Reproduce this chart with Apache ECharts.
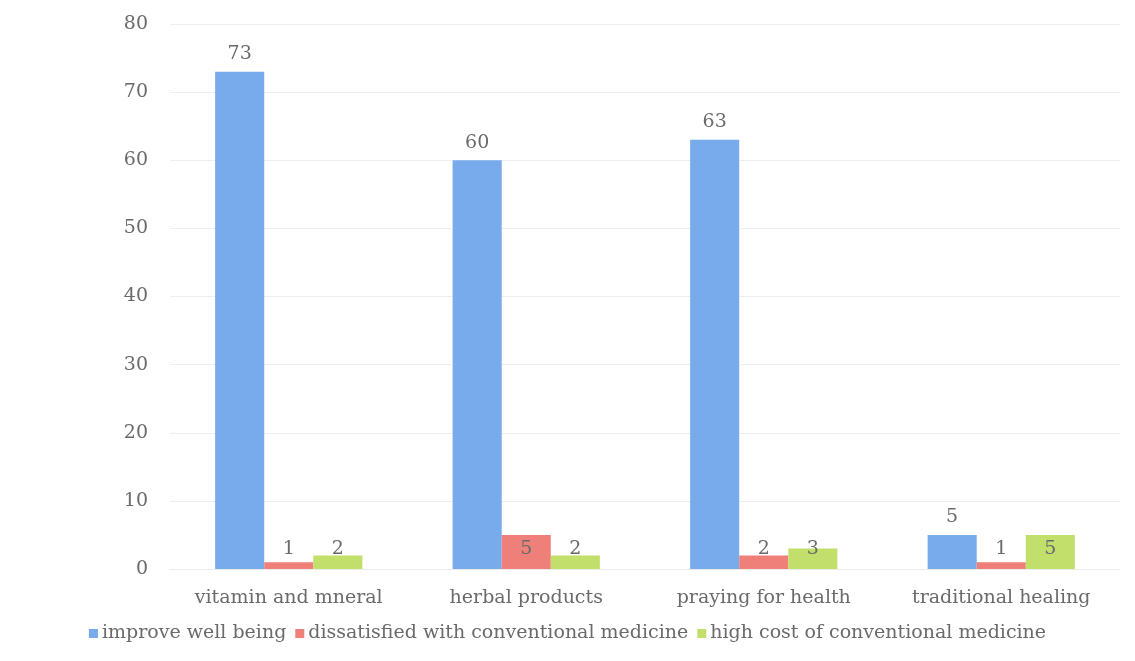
<!DOCTYPE html>
<html>
<head>
    <meta charset="utf-8">
    <script src="https://cdn.jsdelivr.net/npm/echarts@6/dist/echarts.min.js"></script>
    <style>
        html, body { margin: 0; padding: 0; background: #fff; }
        #dom { width: 1135px; height: 661px; }
    </style>
</head>
<body>
<div id="dom"></div>
<script type="text/javascript">
    var categories = ['vitamin and mneral', 'herbal products', 'praying for health', 'traditional healing'];
    var improveWellBeing = [73, 60, 63, 5];
    var dissatisfied = [1, 5, 2, 1];
    var highCost = [2, 2, 3, 5];
    var yTicks = [0, 10, 20, 30, 40, 50, 60, 70, 80];

    var font = '"DejaVu Serif", "Liberation Serif", serif';
    var textColor = '#6a6a6a';

    var myChart = echarts.init(document.getElementById('dom'));

    // small bars: labels sit near the base like in the original (excel-ish)
    function barSeries(name, data, color, smallLabels) {
        return {
            name: name,
            type: 'bar',
            data: data,
            barGap: '0%',
            barCategoryGap: '38%',
            itemStyle: { color: color },
            label: {
                show: true,
                position: smallLabels ? 'insideBottom' : 'top',
                distance: smallLabels ? 10 : 8,
                color: textColor,
                fontFamily: font,
                fontSize: 19
            }
        };
    }

    var option = {
        animation: false,
        backgroundColor: '#fff',
        grid: { left: 170, right: 15, top: 24, bottom: 92 },
        legend: {
            bottom: 13,
            left: 'center',
            itemWidth: 9,
            itemHeight: 9,
            itemGap: 9,
            icon: 'rect',
            textStyle: { color: textColor, fontFamily: font, fontSize: 19, padding: [0, 0, 0, -1] },
            data: ['improve well being', 'dissatisfied with conventional medicine', 'high cost of conventional medicine']
        },
        xAxis: {
            type: 'category',
            data: categories,
            axisLine: { lineStyle: { color: '#ececec' } },
            axisTick: { show: false },
            axisLabel: { interval: 0, color: textColor, fontFamily: font, fontSize: 19, margin: 20 }
        },
        yAxis: {
            type: 'value',
            min: yTicks[0],
            max: yTicks[yTicks.length - 1],
            interval: 10,
            axisLine: { show: false },
            axisTick: { show: false },
            splitLine: { lineStyle: { color: '#eeeeee' } },
            axisLabel: { color: textColor, fontFamily: font, fontSize: 19, margin: 22 }
        },
        series: [
            barSeries('improve well being', improveWellBeing, '#77abeb', false),
            barSeries('dissatisfied with conventional medicine', dissatisfied, '#ef8079', true),
            barSeries('high cost of conventional medicine', highCost, '#c3df6b', true)
        ]
    };
    myChart.setOption(option);
</script>
</body>
</html>
